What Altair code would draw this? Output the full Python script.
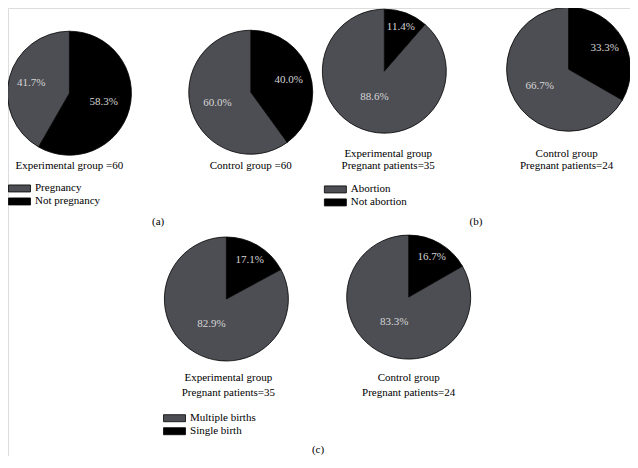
import altair as alt
import pandas as pd

# ---------------- data ----------------
panels = ["a", "a", "b", "b", "c", "c"]
pie_ids = ["a1", "a2", "b1", "b2", "c1", "c2"]
gray_pct = [41.7, 60.0, 88.6, 66.7, 82.9, 83.3]
black_pct = [58.3, 40.0, 11.4, 33.3, 17.1, 16.7]
categories = {
    "a": ["Pregnancy", "Not pregnancy"],
    "b": ["Abortion", "Not abortion"],
    "c": ["Multiple births", "Single birth"],
}
titles = [
    ["Experimental group =60"],
    ["Control group =60"],
    ["Experimental group", "Pregnant patients=35"],
    ["Control group", "Pregnant patients=24"],
    ["Experimental group", "Pregnant patients=35"],
    ["Control group", "Pregnant patients=24"],
]
captions = ["(a)", "(b)", "(c)"]

# ---------------- layout (reference pixel frame 638x468) ----------------
REF_W, REF_H = 638, 468
W, H = 622, 448
pie_cx = [63, 249, 386, 575, 224, 411]
pie_cy = [89, 88, 66, 64, 304, 302]
title_x = [63, 249, 390, 573, 226, 411]
title_y = [[165], [165], [152, 165], [152, 165], [387, 402], [387, 402]]
caption_x = [154, 480, 318]
caption_y = [224, 224, 462]
legend_left = {"a": 0, "b": 324, "c": 159}
legend_row1 = {"a": 188, "b": 189, "c": 428}

GRAY = "#4d4e54"
BLACK = "#000000"
FONT = "Liberation Serif"
RADIUS = 62

sx = W / REF_W
sy = H / REF_H

rows = []
for i, pid in enumerate(pie_ids):
    p = panels[i]
    cats = categories[p]
    rows.append(dict(panel=p, pie=pid, cat=cats[1], pct=black_pct[i], ord=0,
                     cx=pie_cx[i], cy=pie_cy[i]))
    rows.append(dict(panel=p, pie=pid, cat=cats[0], pct=gray_pct[i], ord=1,
                     cx=pie_cx[i], cy=pie_cy[i]))
slices = pd.DataFrame(rows)

ann = []
for i in range(len(pie_ids)):
    for line, yy in zip(titles[i], title_y[i]):
        ann.append(dict(txt=line, tx=title_x[i], ty=yy))
for c, xx, yy in zip(captions, caption_x, caption_y):
    ann.append(dict(txt=c, tx=xx, ty=yy))
annotations = pd.DataFrame(ann)

xs = alt.Scale(domain=[0, REF_W], range=[0, W], nice=False, zero=False)
ys = alt.Scale(domain=[0, REF_H], range=[0, H], nice=False, zero=False)
ts = alt.Scale(domain=[0, 100], range=[0, 6.283185307179586], zero=False, nice=False)

CELL = 13
SWATCH_PATH = "M-1.69,-0.54H1.69V0.54H-1.69Z"  # 22 x 7 px at size CELL^2


def legend_for(p):
    lx = legend_left[p] * sx + 11 - CELL / 2
    ly = legend_row1[p] * sy - CELL / 2
    return alt.Legend(
        orient="none", legendX=lx, legendY=ly, title=None, padding=0,
        symbolType=SWATCH_PATH, symbolSize=CELL * CELL,
        symbolStrokeColor="#000000", symbolStrokeWidth=0.8, symbolOpacity=1,
        labelFont=FONT, labelFontSize=11, labelColor="#000000",
        labelOffset=8.5, rowPadding=0, labelLimit=200,
    )


base = alt.Chart(slices).transform_stack(
    stack="pct", groupby=["pie"], as_=["v0", "v1"],
    sort=[alt.SortField("ord", order="ascending")],
)

arc_layers = []
for p in ["a", "b", "c"]:
    arc_layers.append(
        base.transform_filter(alt.datum.panel == p)
        .mark_arc(radius=RADIUS, stroke="#000000", strokeWidth=0.8)
        .encode(
            x=alt.X("cx:Q", scale=xs, axis=None),
            y=alt.Y("cy:Q", scale=ys, axis=None),
            theta=alt.Theta("v0:Q", scale=ts),
            theta2="v1:Q",
            color=alt.Color("cat:N",
                            scale=alt.Scale(domain=categories[p], range=[GRAY, BLACK]),
                            legend=legend_for(p)),
            order=alt.Order("ord:Q"),
        )
    )

labels = (
    base.transform_calculate(
        mid="(datum.v0 + datum.v1) / 2",
        lr="50 - 0.25 * datum.pct",
        label="format(datum.pct, '.1f') + '%'",
    )
    .mark_text(font=FONT, fontSize=11, color="#d6d6d6", align="center", baseline="middle")
    .encode(
        x=alt.X("cx:Q", scale=xs, axis=None),
        y=alt.Y("cy:Q", scale=ys, axis=None),
        theta=alt.Theta("mid:Q", scale=ts),
        radius=alt.Radius("lr:Q", scale=None),
        text="label:N",
    )
)

text_layer = (
    alt.Chart(annotations)
    .mark_text(font=FONT, fontSize=11, color="#000000", align="center", baseline="middle")
    .encode(
        x=alt.X("tx:Q", scale=xs, axis=None),
        y=alt.Y("ty:Q", scale=ys, axis=None),
        text="txt:N",
    )
)

chart = (
    alt.layer(*arc_layers, labels, text_layer)
    .resolve_scale(color="independent")
    .properties(width=W, height=H, padding=0,
                autosize=alt.AutoSizeParams(type="none"))
    .configure_view(stroke="transparent", strokeOpacity=0, strokeWidth=0)
    .configure(background="#ffffff")
)

chart.save("out.html", embed_options={"renderer": "svg", "actions": False})
